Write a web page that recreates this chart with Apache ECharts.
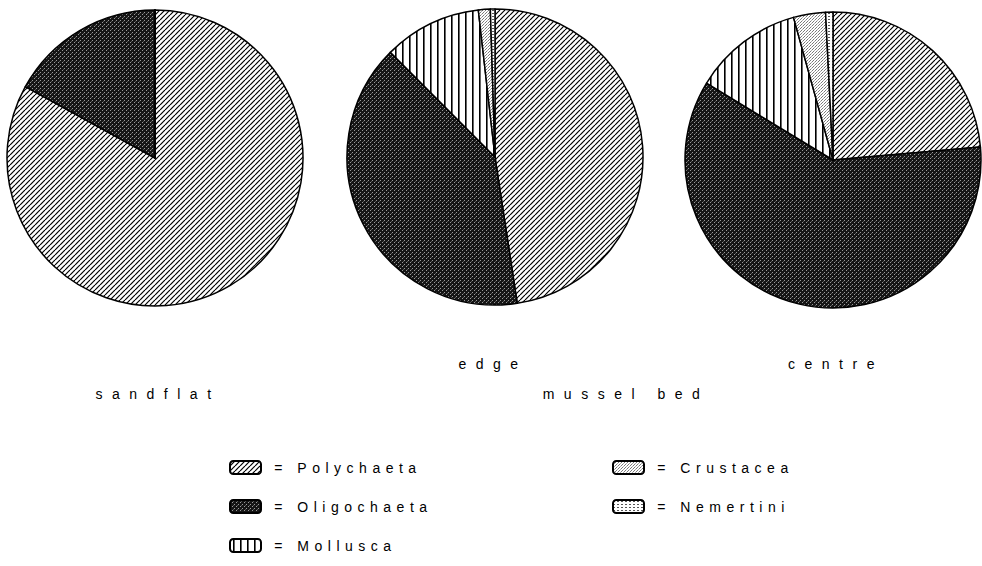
<!DOCTYPE html>
<html>
<head>
<meta charset="utf-8">
<script src="https://cdn.jsdelivr.net/npm/echarts@6/dist/echarts.min.js"></script>
<style>
  html, body { margin: 0; padding: 0; background: #fff; }
  #chart { width: 982px; height: 566px; }
  /* spaced-out lettering like the typed original */
  #chart text { letter-spacing: 5.5px; }
  #chart text[text-anchor="middle"] { letter-spacing: 9.5px; }
</style>
</head>
<body>
<div id="chart"></div>
<script>
// taxa in the order they go round each pie (clockwise from 12 o'clock)
var taxa = ['Polychaeta', 'Oligochaeta', 'Mollusca', 'Crustacea', 'Nemertini'];
// percentage of individuals per site
var sandflat = [83, 17, 0, 0, 0];
var edge = [47.6, 39.9, 10.7, 1.3, 0.5];
var centre = [23.6, 60.1, 12.0, 3.5, 0.8];

// hatch / stipple fills, like the printed figure
function tile(w, h, draw) {
  var c = document.createElement('canvas');
  c.width = w; c.height = h;
  var ctx = c.getContext('2d');
  ctx.fillStyle = '#fff';
  ctx.fillRect(0, 0, w, h);
  draw(ctx);
  return { image: c, repeat: 'repeat' };
}
var fills = {
  Polychaeta: tile(5, 5, function (ctx) {
    ctx.strokeStyle = '#000';
    ctx.lineWidth = 1.2;
    for (var o = -5; o <= 5; o += 5) {
      ctx.beginPath();
      ctx.moveTo(o, 5);
      ctx.lineTo(o + 5, 0);
      ctx.stroke();
    }
  }),
  Oligochaeta: tile(4, 4, function (ctx) {
    ctx.fillStyle = '#151515';
    ctx.fillRect(0, 0, 4, 4);
    ctx.fillStyle = '#9a9a9a';
    ctx.fillRect(0, 0, 1, 1);
    ctx.fillRect(2, 2, 1, 1);
    ctx.fillStyle = '#555';
    ctx.fillRect(3, 1, 1, 1);
  }),
  Mollusca: tile(7, 4, function (ctx) {
    ctx.fillStyle = '#000';
    ctx.fillRect(3, 0, 1.6, 4);
  }),
  Crustacea: tile(3, 3, function (ctx) {
    ctx.fillStyle = '#7a7a7a';
    ctx.fillRect(0, 0, 1, 1);
    ctx.fillRect(2, 1, 1, 1);
    ctx.fillStyle = '#aaa';
    ctx.fillRect(1, 2, 1, 1);
  }),
  Nemertini: tile(4, 3, function (ctx) {
    ctx.fillStyle = '#555';
    ctx.fillRect(0, 1, 2, 1);
  })
};

function pieData(values) {
  return taxa.map(function (name, i) {
    return { name: name, value: values[i], itemStyle: { color: fills[name] } };
  });
}

function pie(name, center, values) {
  return {
    name: name,
    type: 'pie',
    center: center,
    radius: 148,
    startAngle: 90,
    clockwise: true,
    animation: false,
    silent: true,
    label: { show: false },
    labelLine: { show: false },
    itemStyle: { borderColor: '#000', borderWidth: 1.5 },
    data: pieData(values)
  };
}

var myChart = echarts.init(document.getElementById('chart'), null, { renderer: 'svg' });

var font = { fontFamily: 'Liberation Sans', fontSize: 14, color: '#000' };
var labelFont = '14px "Liberation Sans"';

myChart.setOption({
  backgroundColor: '#fff',
  animation: false,
  legend: [
    {
      data: ['Polychaeta', 'Oligochaeta', 'Mollusca'],
      orient: 'vertical',
      left: 229, top: 460, padding: 0,
      itemWidth: 31, itemHeight: 13, itemGap: 24,
      selectedMode: false,
      formatter: '\u2009= {name}',
      textStyle: font
    },
    {
      data: ['Crustacea', 'Nemertini'],
      orient: 'vertical',
      left: 612, top: 460, padding: 0,
      itemWidth: 31, itemHeight: 13, itemGap: 24,
      selectedMode: false,
      formatter: '\u2009= {name}',
      textStyle: font
    }
  ],
  graphic: [
    { type: 'text', x: 493, y: 364, style: { text: 'edge', font: labelFont, fill: '#000', textAlign: 'center', textVerticalAlign: 'middle' } },
    { type: 'text', x: 836, y: 364, style: { text: 'centre', font: labelFont, fill: '#000', textAlign: 'center', textVerticalAlign: 'middle' } },
    { type: 'text', x: 158, y: 394, style: { text: 'sandflat', font: labelFont, fill: '#000', textAlign: 'center', textVerticalAlign: 'middle' } },
    { type: 'text', x: 626, y: 394, style: { text: 'mussel bed', font: labelFont, fill: '#000', textAlign: 'center', textVerticalAlign: 'middle' } }
  ],
  series: [
    pie('edge', [495, 157], edge),
    pie('centre', [833, 160], centre),
    pie('sandflat', [155, 158], sandflat)
  ]
});
</script>
</body>
</html>
